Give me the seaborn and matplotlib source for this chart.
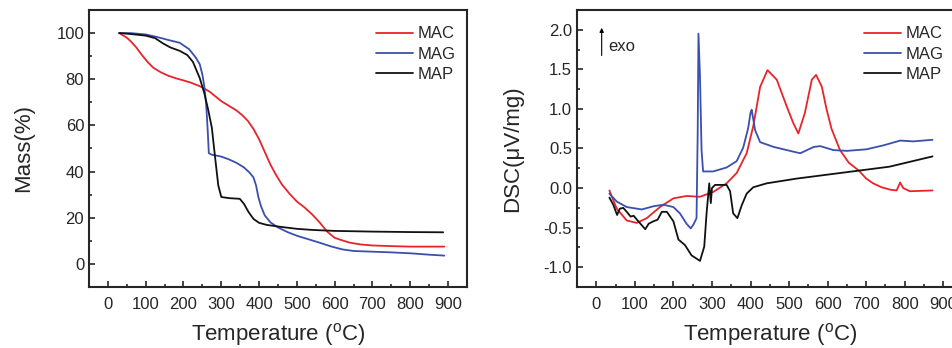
import numpy as np
import pandas as pd
import seaborn as sns
import matplotlib.pyplot as plt
from matplotlib.ticker import MultipleLocator

# TGA data (temperature in C, mass %)
mac_tga_t = [30, 50, 60, 75, 90, 105, 120, 140, 160, 180, 200, 220, 240, 255, 270, 285, 300, 320, 340, 355, 370, 385, 400, 415, 430, 445, 460, 480, 500, 520, 540, 560, 580, 600, 620, 640, 670, 700, 750, 800, 890]
mac_tga_m = [100, 98, 96.5, 93.8, 90.5, 87.5, 85, 83, 81.5, 80.4, 79.5, 78.5, 77.2, 76, 74.5, 72.5, 70.5, 68.5, 66.5, 64.5, 62, 58.5, 54, 48.5, 43, 38.5, 34.5, 30.5, 27, 24.5, 21.5, 18, 14, 11.3, 10.2, 9.2, 8.4, 8, 7.7, 7.5, 7.5]

mag_tga_t = [30, 60, 100, 130, 160, 190, 215, 232, 243, 250, 255, 260, 264, 267, 275, 300, 320, 340, 360, 375, 385, 392, 398, 405, 415, 430, 450, 475, 500, 530, 560, 590, 620, 650, 700, 750, 800, 850, 890]
mag_tga_m = [100, 100, 99.4, 98.3, 97, 95.8, 93, 89.5, 86.5, 82, 77, 69, 58, 48, 47.3, 46.5, 45.3, 43.8, 41.8, 39.5, 37.5, 34, 29, 25, 21, 18, 15.8, 13.8, 12.2, 10.7, 9.2, 7.6, 6.3, 5.6, 5.3, 5.0, 4.6, 4.0, 3.6]

map_tga_t = [30, 60, 100, 125, 145, 165, 190, 210, 225, 243, 255, 265, 275, 283, 292, 300, 320, 349, 360, 372, 385, 400, 420, 455, 500, 543, 600, 700, 800, 887]
map_tga_m = [100, 99.6, 98.9, 97.8, 95.6, 93.8, 92.3, 90.5, 87.5, 80.5, 74, 67, 59, 47, 34, 29, 28.5, 28.2, 26, 22.5, 19.5, 17.8, 16.9, 16.1, 15.2, 14.7, 14.3, 14, 13.8, 13.7]

# DSC data (temperature in C, uV/mg)
mac_dsc_t = [34, 53, 79, 105, 131, 165, 200, 234, 269, 303, 338, 364, 390, 407, 425, 444, 468, 494, 511, 524, 541, 559, 570, 585, 597, 610, 632, 655, 681, 700, 718, 740, 762, 779, 788, 796, 813, 872]
mac_dsc_v = [-0.03, -0.26, -0.41, -0.44, -0.38, -0.24, -0.13, -0.10, -0.11, -0.05, 0.06, 0.19, 0.44, 0.78, 1.28, 1.49, 1.37, 1.03, 0.82, 0.69, 0.95, 1.37, 1.43, 1.28, 1.0, 0.75, 0.48, 0.32, 0.22, 0.12, 0.06, 0.01, -0.02, -0.03, 0.07, 0.0, -0.04, -0.03]

mag_dsc_t = [34, 53, 79, 118, 148, 174, 200, 217, 234, 245, 252, 260, 263, 265, 269, 273, 277, 303, 338, 364, 381, 394, 400, 403, 412, 425, 460, 511, 529, 564, 581, 615, 650, 701, 745, 788, 822, 872]
mag_dsc_v = [-0.07, -0.17, -0.24, -0.27, -0.23, -0.21, -0.24, -0.32, -0.45, -0.51, -0.46, -0.38, 0.7, 1.95, 1.4, 0.48, 0.21, 0.21, 0.26, 0.34, 0.51, 0.76, 0.95, 0.99, 0.73, 0.58, 0.52, 0.46, 0.44, 0.52, 0.53, 0.48, 0.47, 0.49, 0.54, 0.60, 0.59, 0.61]

map_dsc_t = [34, 44, 54, 61, 70, 79, 89, 97, 109, 127, 136, 148, 159, 170, 183, 200, 213, 230, 247, 269, 280, 286, 293, 297, 300, 308, 338, 347, 355, 366, 377, 390, 407, 442, 520, 600, 680, 760, 872]
map_dsc_v = [-0.12, -0.21, -0.34, -0.26, -0.25, -0.30, -0.36, -0.35, -0.42, -0.52, -0.45, -0.42, -0.40, -0.30, -0.30, -0.42, -0.65, -0.72, -0.85, -0.92, -0.74, -0.32, 0.06, -0.19, 0.0, 0.04, 0.04, -0.04, -0.32, -0.38, -0.22, -0.07, 0.01, 0.06, 0.12, 0.17, 0.22, 0.27, 0.40]

samples = ['MAC', 'MAG', 'MAP']
colors = {'MAC': '#e8242a', 'MAG': '#3a4fae', 'MAP': '#111111'}

tga = pd.concat([
    pd.DataFrame({'T': mac_tga_t, 'y': mac_tga_m, 'sample': 'MAC'}),
    pd.DataFrame({'T': mag_tga_t, 'y': mag_tga_m, 'sample': 'MAG'}),
    pd.DataFrame({'T': map_tga_t, 'y': map_tga_m, 'sample': 'MAP'}),
])
dsc = pd.concat([
    pd.DataFrame({'T': mac_dsc_t, 'y': mac_dsc_v, 'sample': 'MAC'}),
    pd.DataFrame({'T': mag_dsc_t, 'y': mag_dsc_v, 'sample': 'MAG'}),
    pd.DataFrame({'T': map_dsc_t, 'y': map_dsc_v, 'sample': 'MAP'}),
])

sns.set_style('ticks')
plt.rcParams['font.family'] = ['Liberation Sans', 'DejaVu Sans']
plt.rcParams['mathtext.fontset'] = 'custom'
plt.rcParams['mathtext.rm'] = 'Liberation Sans'
plt.rcParams['axes.unicode_minus'] = False

fig = plt.figure(figsize=(9.53, 3.48), dpi=100)
ax1 = fig.add_axes([89 / 953, 61 / 348, 378 / 953, 277 / 348])
ax2 = fig.add_axes([577 / 953, 61 / 348, 385.6 / 953, 277 / 348])

for ax, df in [(ax1, tga), (ax2, dsc)]:
    sns.lineplot(data=df, x='T', y='y', hue='sample', hue_order=samples,
                 palette=colors, estimator=None, sort=False, lw=1.3, ax=ax)
    ax.set_xlim(-50, 950)
    ax.xaxis.set_major_locator(MultipleLocator(100))
    ax.xaxis.set_minor_locator(MultipleLocator(50))
    ax.tick_params(which='both', direction='in', labelsize=12, width=1.2)
    ax.tick_params(which='major', length=4)
    ax.tick_params(which='minor', length=2.5)
    ax.tick_params(axis='x', pad=7)
    for s in ax.spines.values():
        s.set_linewidth(1.5)
    ax.set_xlabel(r'Temperature ($^\mathrm{o}$C)', fontsize=16, labelpad=7)
    ax.legend(loc='upper right', frameon=False, fontsize=12,
              handlelength=2.2, handletextpad=0.3, labelspacing=0.32)

ax1.set_ylim(-10, 110)
ax1.yaxis.set_major_locator(MultipleLocator(20))
ax1.yaxis.set_minor_locator(MultipleLocator(10))
ax1.set_ylabel('Mass(%)', fontsize=16, labelpad=16)
ax1.legend_.set_bbox_to_anchor((1.01, 0.995))

ax2.set_ylim(-1.25, 2.25)
ax2.yaxis.set_major_locator(MultipleLocator(0.5))
ax2.yaxis.set_minor_locator(MultipleLocator(0.25))
ax2.yaxis.set_major_formatter(plt.FormatStrFormatter('%.1f'))
ax2.set_ylabel('DSC(μV/mg)', fontsize=16, labelpad=15)
ax2.legend_.set_bbox_to_anchor((0.99, 0.995))

ax2.annotate('', xy=(14, 2.06), xytext=(14, 1.64),
             arrowprops=dict(arrowstyle='-|>', color='black', lw=0.8, mutation_scale=6))
ax2.text(30, 1.79, 'exo', fontsize=12, va='center', ha='left')

fig.savefig('out.png', dpi=100)
